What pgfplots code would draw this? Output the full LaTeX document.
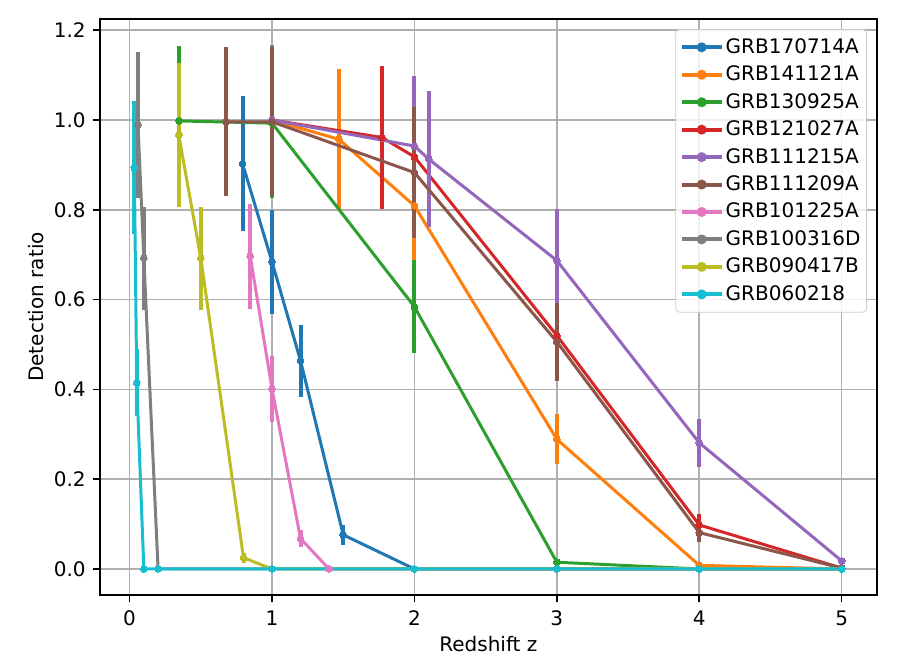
\documentclass[border=0pt]{standalone}
\usepackage{pgfplots}
\pgfplotsset{compat=1.18}
\usepackage{pgfplotstable}
\usepackage{fontspec}
\setmainfont{DejaVu Sans}
\definecolor{c0}{HTML}{1F77B4}
\definecolor{c1}{HTML}{FF7F0E}
\definecolor{c2}{HTML}{2CA02C}
\definecolor{c3}{HTML}{D62728}
\definecolor{c4}{HTML}{9467BD}
\definecolor{c5}{HTML}{8C564B}
\definecolor{c6}{HTML}{E377C2}
\definecolor{c7}{HTML}{7F7F7F}
\definecolor{c8}{HTML}{BCBD22}
\definecolor{c9}{HTML}{17BECF}
\definecolor{gridc}{HTML}{B0B0B0}

\pgfplotstableread{
x y e
0.793 0.903 0.150
1.0 0.684 0.115
1.2 0.464 0.080
1.5 0.076 0.022
2 0 0
3 0 0
4 0 0
5 0 0
}\tA
\pgfplotstableread{
x y e
1.0 1.0 0.166
1.47 0.957 0.157
2 0.809 0.125
3 0.289 0.056
4 0.008 0.005
5 0.0 0
}\tB
\pgfplotstableread{
x y e
0.347 0.998 0.167
1.0 0.993 0.166
2 0.584 0.104
3 0.015 0.008
4 0 0
5 0 0
}\tC
\pgfplotstableread{
x y e
1.0 1.0 0.166
1.773 0.961 0.160
2 0.918 0.153
3 0.520 0.087
4 0.098 0.024
5 0.002 0
}\tD
\pgfplotstableread{
x y e
1.0 1.0 0.167
2.0 0.942 0.156
2.1 0.913 0.151
3 0.687 0.114
4 0.281 0.053
5 0.018 0.005
}\tE
\pgfplotstableread{
x y e
0.677 0.996 0.166
1.0 0.996 0.166
2 0.883 0.146
3 0.506 0.087
4 0.081 0.020
5 0.002 0
}\tF
\pgfplotstableread{
x y e
0.847 0.697 0.117
1.0 0.401 0.073
1.2 0.068 0.018
1.4 0 0
2 0 0
3 0 0
4 0 0
5 0 0
}\tG
\pgfplotstableread{
x y e
0.059 0.989 0.163
0.1 0.692 0.115
0.2 0 0
1 0 0
2 0 0
3 0 0
4 0 0
5 0 0
}\tH
\pgfplotstableread{
x y e
0.345 0.967 0.160
0.5 0.692 0.115
0.8 0.025 0.011
1 0 0
2 0 0
3 0 0
4 0 0
5 0 0
}\tI
\pgfplotstableread{
x y e
0.033 0.894 0.149
0.05 0.415 0.075
0.1 0 0
0.2 0 0
1 0 0
2 0 0
3 0 0
4 0 0
5 0 0
}\tJ

\pgfplotsset{
  ser/.style={color=#1, line width=1.5pt, mark=*, mark size=1.7pt,
    mark options={solid, fill=#1, draw=#1, line width=0pt},
    error bars/.cd, y dir=both, y explicit,
    error bar style={line width=2pt, color=#1}, error mark=none},
}

\begin{document}
\begin{tikzpicture}
\path[use as bounding box] (0,0) rectangle (460.5pt,330pt);
\begin{axis}[
  at={(49.85pt,32.5pt)}, anchor=south west,
  scale only axis, width=388.65pt, height=288pt,
  xmin=-0.21, xmax=5.248, ymin=-0.058, ymax=1.225,
  xtick={0,1,2,3,4,5},
  ytick={0,0.2,0.4,0.6,0.8,1.0,1.2},
  yticklabel style={/pgf/number format/.cd, fixed, fixed zerofill, precision=1},
  /pgf/number format/assume math mode=true,
  tick label style={font=\fontsize{10}{12}\selectfont},
  label style={font=\fontsize{10}{12}\selectfont},
  xlabel={Redshift z}, ylabel={Detection ratio},
  tick align=outside, major tick length=3.5pt,
  tick style={black, line width=0.8pt},
  xtick pos=bottom, ytick pos=left,
  axis line style={line width=0.8pt},
  grid=major, grid style={gridc, line width=0.8pt},
  xlabel style={at={(axis description cs:0.5,0)}, anchor=north, yshift=-17pt},
  ylabel style={at={(axis description cs:0,0.5)}, anchor=south, xshift=0pt, yshift=24.5pt},
  xticklabel style={yshift=-1pt},
  legend style={at={(1,1)}, xshift=-5pt, yshift=-5pt, anchor=north east,
    draw=black!20, rounded corners=2pt, fill=white, fill opacity=0.8, text opacity=1,
    font=\fontsize{10}{12}\selectfont, row sep=2.8pt, inner xsep=2pt, inner ysep=3.5pt,
    nodes={inner sep=1pt}},
  legend cell align=left,
  legend image code/.code={
    \draw[#1, line width=2pt, mark=none] (0pt,0pt) -- (20pt,0pt);
    \fill[#1] (10pt,0pt) circle (1.7pt);
  },
]
\addplot[ser=c0] table[x=x, y=y, y error=e] {\tA};
\addlegendentry{GRB170714A}
\addplot[ser=c1] table[x=x, y=y, y error=e] {\tB};
\addlegendentry{GRB141121A}
\addplot[ser=c2] table[x=x, y=y, y error=e] {\tC};
\addlegendentry{GRB130925A}
\addplot[ser=c3] table[x=x, y=y, y error=e] {\tD};
\addlegendentry{GRB121027A}
\addplot[ser=c4] table[x=x, y=y, y error=e] {\tE};
\addlegendentry{GRB111215A}
\addplot[ser=c5] table[x=x, y=y, y error=e] {\tF};
\addlegendentry{GRB111209A}
\addplot[ser=c6] table[x=x, y=y, y error=e] {\tG};
\addlegendentry{GRB101225A}
\addplot[ser=c7] table[x=x, y=y, y error=e] {\tH};
\addlegendentry{GRB100316D}
\addplot[ser=c8] table[x=x, y=y, y error=e] {\tI};
\addlegendentry{GRB090417B}
\addplot[ser=c9] table[x=x, y=y, y error=e] {\tJ};
\addlegendentry{GRB060218}
\end{axis}
\end{tikzpicture}
\end{document}
